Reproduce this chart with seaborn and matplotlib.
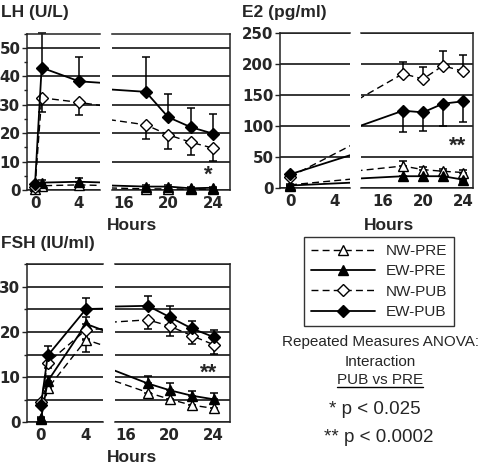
import numpy as np
import pandas as pd
import matplotlib
matplotlib.use("Agg")
import matplotlib.pyplot as plt
import seaborn as sns
from matplotlib.transforms import Bbox, TransformedBbox
from matplotlib.lines import Line2D
from matplotlib.ticker import MultipleLocator, FixedLocator

# ---------------- data ----------------
SERIES = ["NW-PRE", "EW-PRE", "NW-PUB", "EW-PUB"]

LH_HOURS = [0, 0.6, 4, 18, 20, 22, 24]
LH_NW_PRE = [0.2, 1.5, 1.8, 0.4, 0.4, 0.3, 0.3]
LH_EW_PRE = [1.5, 2.6, 2.9, 1.2, 1.2, 0.6, 0.8]
LH_NW_PUB = [1.0, 32.4, 30.8, 22.9, 19.4, 16.8, 14.7]
LH_EW_PUB = [2.1, 43.0, 38.2, 34.5, 25.6, 22.1, 19.8]
LH_NW_PRE_ERR = [0.2, 0.5, 0.8, 0.2, 0.2, 0.2, 0.2]
LH_EW_PRE_ERR = [0.5, 0.8, 1.2, 0.5, 0.5, 0.4, 0.4]
LH_NW_PUB_ERR = [0.3, 5.1, 4.4, 5.0, 4.9, 4.4, 4.6]
LH_EW_PUB_ERR = [0.5, 12.3, 8.6, 12.2, 8.0, 6.6, 6.9]

E2_HOURS = [0, 18, 20, 22, 24]
E2_NW_PRE = [5, 35.5, 29.6, 27, 25]
E2_EW_PRE = [4, 19, 19, 19, 13.5]
E2_NW_PUB = [18, 184.4, 175.8, 197.3, 188.2]
E2_EW_PUB = [22, 124.7, 122, 136, 139.8]
E2_NW_PRE_ERR = [2, 7.5, 5, 4, 4]
E2_EW_PRE_ERR = [1, 4, 4, 4, 4]
E2_NW_PUB_ERR = [3, 19, 20, 24, 26]
E2_EW_PUB_ERR = [3, 35, 29.5, 36.5, 34]

FSH_HOURS = [0, 0.6, 4, 18, 20, 22, 24]
FSH_NW_PRE = [1.0, 7.5, 18.3, 6.6, 5.1, 3.8, 3.1]
FSH_EW_PRE = [0.8, 9.1, 21.8, 8.6, 7.1, 5.9, 5.1]
FSH_NW_PUB = [4.5, 13.2, 20.5, 22.7, 21.3, 19.2, 17.2]
FSH_EW_PUB = [3.8, 14.8, 25.1, 25.8, 23.3, 20.8, 18.9]
FSH_NW_PRE_ERR = [0.3, 1.0, 2.7, 1.0, 0.8, 0.6, 0.6]
FSH_EW_PRE_ERR = [0.3, 1.2, 1.5, 1.7, 1.5, 1.0, 1.3]
FSH_NW_PUB_ERR = [0.5, 1.2, 2.0, 2.0, 2.1, 1.8, 2.0]
FSH_EW_PUB_ERR = [0.5, 2.1, 2.4, 2.1, 2.5, 1.6, 1.6]

# direction of the (one-sided) error bars in each panel
LH_ERR_DIR = ["down", "up", "down", "up"]
E2_ERR_DIR = ["up", "down", "up", "down"]
FSH_ERR_DIR = ["down", "up", "down", "up"]

LEFT_TICKS = [0, 4]
RIGHT_TICKS = [16, 20, 24]

# ---------------- style ----------------
sns.set_theme(style="white")
plt.rcParams["font.family"] = ["Liberation Sans", "DejaVu Sans"]
TICK_FONT = dict(family=["DejaVu Sans"], weight="bold", size=10.8)

W, H = 482, 468
fig = plt.figure(figsize=(W / 100, H / 100), dpi=100)


def add_ax(x1, y1, x2, y2):
    return fig.add_axes([x1 / W, 1 - y2 / H, (x2 - x1) / W, (y2 - y1) / H])


STYLE = {
    "NW-PRE": dict(marker="^", mfc="white", ls=(0, (5, 3)), lw=1.0, ms=7.5),
    "EW-PRE": dict(marker="^", mfc="black", ls="-", lw=1.3, ms=7.5),
    "NW-PUB": dict(marker="D", mfc="white", ls=(0, (5, 3)), lw=1.0, ms=6),
    "EW-PUB": dict(marker="D", mfc="black", ls="-", lw=1.3, ms=6),
}


def vclip(ax):
    return TransformedBbox(Bbox([[0, -0.15], [1, 1.15]]), ax.transAxes)


def draw_series(ax, hours, vals, errs, dirs):
    for name, v, e, d in zip(SERIES, vals, errs, dirs):
        st = STYLE[name]
        e = np.asarray(e, float)
        z = np.zeros_like(e)
        yerr = [e, z] if d == "down" else [z, e]
        eb = ax.errorbar(hours, v, yerr=yerr, fmt="none", ecolor="black",
                         elinewidth=1.1, capsize=2.8, capthick=1.1, zorder=2)
        for art in eb.get_children():
            art.set_clip_box(vclip(ax))
        df = pd.DataFrame({"h": hours, "v": v})
        sns.lineplot(data=df, x="h", y="v", ax=ax, color="black",
                     marker=st["marker"], markersize=st["ms"],
                     markerfacecolor=st["mfc"], markeredgecolor="black",
                     markeredgewidth=1.0, linestyle=st["ls"],
                     linewidth=st["lw"], label=name, legend=False, zorder=3)
    for ln in ax.get_lines():
        ln.set_clip_box(vclip(ax))


def style_pair(axl, axr, ylim, major, minor, grid_minor, xl, xr):
    for ax in (axl, axr):
        ax.set_ylim(*ylim)
        ax.yaxis.set_major_locator(MultipleLocator(major))
        if minor:
            ax.yaxis.set_minor_locator(MultipleLocator(minor))
        ax.grid(axis="y", which="both" if grid_minor else "major",
                color="black", lw=1.1)
        ax.grid(axis="x", visible=False)
        ax.set_axisbelow(True)
        ax.set_xlabel("")
        ax.set_ylabel("")
        ax.set_facecolor("white")
        for s in ax.spines.values():
            s.set_color("#222222")
            s.set_linewidth(1.1)
        ax.tick_params(axis="x", which="major", direction="inout", length=4,
                       width=1, color="#222222", pad=2)
    axl.set_xlim(*xl)
    axr.set_xlim(*xr)
    axl.xaxis.set_major_locator(FixedLocator(LEFT_TICKS))
    axr.xaxis.set_major_locator(FixedLocator(RIGHT_TICKS))
    axl.spines["right"].set_visible(False)
    axr.spines["left"].set_visible(False)
    axl.tick_params(axis="y", which="major", left=True, direction="out",
                    length=3.5, width=1, color="#222222", pad=1.2)
    axl.tick_params(axis="y", which="minor", left=True, direction="out",
                    length=2.5, width=1, color="#222222")
    axr.tick_params(axis="y", which="both", left=False, right=False,
                    labelleft=False)
    for ax in (axl, axr):
        for lab in ax.get_xticklabels() + ax.get_yticklabels():
            lab.set_fontproperties(TICK_FONT)


# ---------------- LH ----------------
lh_l = add_ax(27, 33.5, 100, 190)
lh_r = add_ax(112, 33.5, 230, 190)
lh_vals = [LH_NW_PRE, LH_EW_PRE, LH_NW_PUB, LH_EW_PUB]
lh_errs = [LH_NW_PRE_ERR, LH_EW_PRE_ERR, LH_NW_PUB_ERR, LH_EW_PUB_ERR]
for ax in (lh_l, lh_r):
    draw_series(ax, LH_HOURS, lh_vals, lh_errs, LH_ERR_DIR)
style_pair(lh_l, lh_r, (0, 55), 10, 5, False, (-0.73, 5.9), (15.0, 25.5))
lh_r.text(23.55, 5.3, "*", fontsize=16, fontweight="bold",
          ha="center", va="center")

# ---------------- E2 ----------------
e2_l = add_ax(280, 33, 350, 188)
e2_r = add_ax(361, 33, 473, 188)
e2_vals = [E2_NW_PRE, E2_EW_PRE, E2_NW_PUB, E2_EW_PUB]
e2_errs = [E2_NW_PRE_ERR, E2_EW_PRE_ERR, E2_NW_PUB_ERR, E2_EW_PUB_ERR]
for ax in (e2_l, e2_r):
    draw_series(ax, E2_HOURS, e2_vals, e2_errs, E2_ERR_DIR)
style_pair(e2_l, e2_r, (0, 250), 50, None, False, (-0.9, 5.4), (13.8, 25.0))
e2_r.text(23.5, 68, "**", fontsize=16, fontweight="bold",
          ha="center", va="center")

# ---------------- FSH ----------------
fsh_l = add_ax(27, 264.3, 103, 422.3)
fsh_r = add_ax(115, 264.3, 230, 422.3)
fsh_vals = [FSH_NW_PRE, FSH_EW_PRE, FSH_NW_PUB, FSH_EW_PUB]
fsh_errs = [FSH_NW_PRE_ERR, FSH_EW_PRE_ERR, FSH_NW_PUB_ERR, FSH_EW_PUB_ERR]
for ax in (fsh_l, fsh_r):
    draw_series(ax, FSH_HOURS, fsh_vals, fsh_errs, FSH_ERR_DIR)
style_pair(fsh_l, fsh_r, (0, 35), 10, 5, True, (-1.24, 5.5), (15.0, 25.5))
fsh_r.text(23.55, 10.8, "**", fontsize=16, fontweight="bold",
           ha="center", va="center")

# ---------------- titles / labels ----------------
def ftext(x, y, s, **kw):
    return fig.text(x / W, 1 - y / H, s, **kw)

ftext(1, 13, "LH (U/L)", fontsize=12.5, fontweight="bold", ha="left", va="center")
ftext(242, 13, "E2 (pg/ml)", fontsize=12.5, fontweight="bold", ha="left", va="center")
ftext(1, 243, "FSH (IU/ml)", fontsize=12.5, fontweight="bold", ha="left", va="center")
ftext(132, 225, "Hours", fontsize=12.5, fontweight="bold", ha="center", va="center")
ftext(389, 225, "Hours", fontsize=12.5, fontweight="bold", ha="center", va="center")
ftext(132, 457, "Hours", fontsize=12.5, fontweight="bold", ha="center", va="center")

# ---------------- legend ----------------
handles, labels = fsh_l.get_legend_handles_labels()
leg = fig.legend(handles, labels, loc="upper left",
                 bbox_to_anchor=(304 / W, 1 - 237 / H), frameon=True,
                 fancybox=False, edgecolor="black", borderaxespad=0,
                 handlelength=4.2, fontsize=11, labelspacing=0.42,
                 borderpad=0.45, handletextpad=0.7)
leg.get_frame().set_linewidth(1.0)

# ---------------- ANOVA text ----------------
ftext(380, 342, "Repeated Measures ANOVA:", fontsize=11, ha="center", va="center")
ftext(380, 362, "Interaction", fontsize=11, ha="center", va="center")
ut = ftext(380, 380, "PUB vs PRE", fontsize=11, ha="center", va="center")
ftext(375, 410, "* p < 0.025", fontsize=13.5, ha="center", va="center")
ftext(379, 437, "** p < 0.0002", fontsize=13.5, ha="center", va="center")

fig.canvas.draw()
bb = ut.get_window_extent(fig.canvas.get_renderer()).transformed(fig.transFigure.inverted())
fig.add_artist(Line2D([bb.x0, bb.x1], [bb.y0 + 0.001, bb.y0 + 0.001],
                      transform=fig.transFigure, color="black", lw=1.0))

fig.savefig("out.png", dpi=100)
